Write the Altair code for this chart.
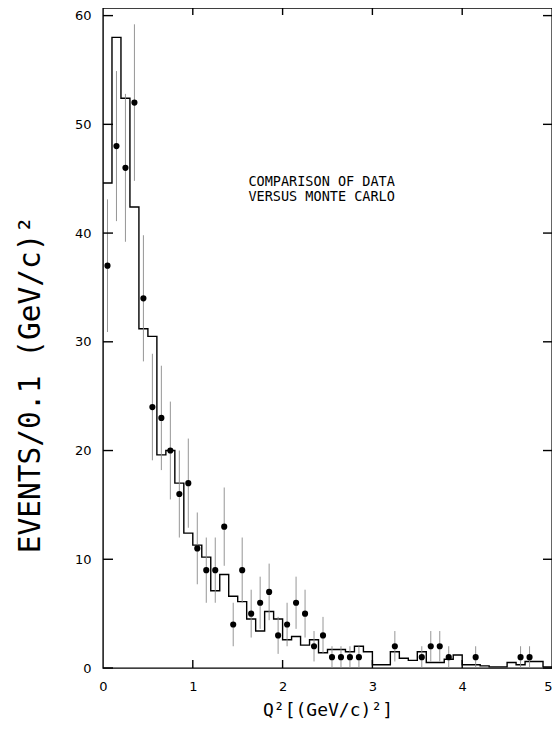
import altair as alt
import pandas as pd

# Monte Carlo histogram: lower bin edges (width 0.1) and bin contents
mc_lo = [0.0, 0.1, 0.2, 0.3, 0.4, 0.5, 0.6, 0.7, 0.8, 0.9,
         1.0, 1.1, 1.2, 1.3, 1.4, 1.5, 1.6, 1.7, 1.8, 1.9,
         2.0, 2.1, 2.2, 2.3, 2.4, 2.5, 2.6, 2.7, 2.8, 2.9,
         3.0, 3.1, 3.2, 3.3, 3.4, 3.5, 3.6, 3.7, 3.8, 3.9,
         4.0, 4.1, 4.2, 4.3, 4.4, 4.5, 4.6, 4.7, 4.8, 4.9,
         5.0]
mc_val = [44.6, 58.0, 52.4, 42.4, 31.2, 30.5, 19.6, 20.0, 17.0, 12.4,
          11.3, 10.2, 7.1, 8.6, 6.6, 6.1, 4.5, 3.4, 5.2, 4.5,
          2.6, 2.9, 2.1, 2.6, 1.4, 1.7, 1.7, 1.5, 2.0, 1.5,
          0.3, 0.3, 1.5, 0.9, 0.7, 1.5, 0.5, 0.5, 0.8, 1.2,
          0.3, 0.3, 0.2, 0.1, 0.1, 0.5, 0.3, 0.6, 0.6, 0.1,
          0.1]

# Data points: bin centre, events, error
pt_x = [0.05, 0.15, 0.25, 0.35, 0.45, 0.55, 0.65, 0.75, 0.85, 0.95,
        1.05, 1.15, 1.25, 1.35, 1.45, 1.55, 1.65, 1.75, 1.85, 1.95,
        2.05, 2.15, 2.25, 2.35, 2.45, 2.55, 2.65, 2.75, 2.85,
        3.25, 3.55, 3.65, 3.75, 3.85, 4.15, 4.65, 4.75]
pt_n = [37, 48, 46, 52, 34, 24, 23, 20, 16, 17,
        11, 9, 9, 13, 4, 9, 5, 6, 7, 3,
        4, 6, 5, 2, 3, 1, 1, 1, 1,
        2, 1, 2, 2, 1, 1, 1, 1]
pt_err = [6.1, 6.9, 6.8, 7.2, 5.8, 4.9, 4.8, 4.5, 4.0, 4.1,
          3.3, 3.0, 3.0, 3.6, 2.0, 3.0, 2.2, 2.4, 2.6, 1.7,
          2.0, 2.4, 2.2, 1.4, 1.7, 1.0, 1.0, 1.0, 1.0,
          1.4, 1.0, 1.4, 1.4, 1.0, 1.0, 1.0, 1.0]

x_ticks = [0, 1, 2, 3, 4, 5]
y_ticks = [0, 10, 20, 30, 40, 50, 60]

W, H = 449, 660
XDOM = [0, 5.0]
YDOM = [0, 60.7]
MONO = "DejaVu Sans Mono"

mc_df = pd.DataFrame({"q2": mc_lo, "ev": mc_val})
pt_df = pd.DataFrame({"q2": pt_x, "ev": pt_n, "err": pt_err})
pt_df["lo"] = (pt_df["ev"] - pt_df["err"]).clip(lower=0)
pt_df["hi"] = pt_df["ev"] + pt_df["err"]
xt_df = pd.DataFrame({"v": x_ticks[1:-1]})
yt_df = pd.DataFrame({"v": y_ticks})
note_df = pd.DataFrame({"q2": [1.62], "ev": [44.7],
                        "t": ["COMPARISON OF DATA\nVERSUS MONTE CARLO"]})

xs = alt.Scale(domain=XDOM, nice=False, zero=False)
ys = alt.Scale(domain=YDOM, nice=False, zero=False)

x_axis = alt.Axis(values=x_ticks, format="d", ticks=False, domain=False, grid=False,
                  labelFontSize=13, labelPadding=12, labelColor="black",
                  labelAlign={"condition": {"test": "datum.value == 5", "value": "right"},
                              "value": "center"},
                  title="Q²[(GeV/c)²]", titleFont=MONO, titleFontSize=18,
                  titleFontWeight="normal", titleColor="black",
                  titleY=42, titleBaseline="middle")
y_axis = alt.Axis(values=y_ticks, ticks=False, domain=False, grid=False,
                  labelFontSize=13, labelPadding=12, labelColor="black",
                  title="EVENTS/0.1  (GeV/c)²", titleFont=MONO, titleFontSize=29.5,
                  titleFontWeight="normal", titleColor="black",
                  titleX=-73, titleY=376, titleAngle=270,
                  titleAlign="center", titleBaseline="middle")

mc = alt.Chart(mc_df).mark_line(interpolate="step-after", color="black",
                                strokeWidth=1.4, clip=True).encode(
    x=alt.X("q2:Q", scale=xs, axis=x_axis),
    y=alt.Y("ev:Q", scale=ys, axis=y_axis),
)

err = alt.Chart(pt_df).mark_rule(color="#8a8a8a", strokeWidth=0.9, clip=True).encode(
    x=alt.X("q2:Q", scale=xs),
    y=alt.Y("lo:Q", scale=ys),
    y2="hi:Q",
)

pts = alt.Chart(pt_df).mark_circle(color="black", size=38, opacity=1, clip=True).encode(
    x=alt.X("q2:Q", scale=xs),
    y=alt.Y("ev:Q", scale=ys),
)

tick_style = dict(color="black", strokeWidth=1.4)
yt_left = alt.Chart(yt_df).mark_rule(**tick_style).encode(
    y=alt.Y("v:Q", scale=ys), x=alt.value(0), x2=alt.value(10))
yt_right = alt.Chart(yt_df).mark_rule(**tick_style).encode(
    y=alt.Y("v:Q", scale=ys), x=alt.value(W - 9), x2=alt.value(W))
xt_bottom = alt.Chart(xt_df).mark_rule(**tick_style).encode(
    x=alt.X("v:Q", scale=xs), y=alt.value(H - 8), y2=alt.value(H))
xt_top = alt.Chart(xt_df).mark_rule(**tick_style).encode(
    x=alt.X("v:Q", scale=xs), y=alt.value(0), y2=alt.value(7))

note = alt.Chart(note_df).mark_text(align="left", baseline="middle", fontSize=13.5,
                                    lineHeight=15, lineBreak="\n", color="black",
                                    font=MONO).encode(
    x=alt.X("q2:Q", scale=xs),
    y=alt.Y("ev:Q", scale=ys),
    text="t:N",
)

chart = alt.layer(mc, err, pts, yt_left, yt_right, xt_bottom, xt_top, note).properties(
    width=W, height=H,
    padding={"left": 95, "top": 0, "right": 0, "bottom": 54},
    autosize=alt.AutoSizeParams(type="none"),
).configure(font="DejaVu Sans").configure_view(
    stroke="black", strokeWidth=1.4, fill="white"
).configure_axis(labelFont="DejaVu Sans")

chart.save("out.html", embed_options={"renderer": "svg", "actions": False})
